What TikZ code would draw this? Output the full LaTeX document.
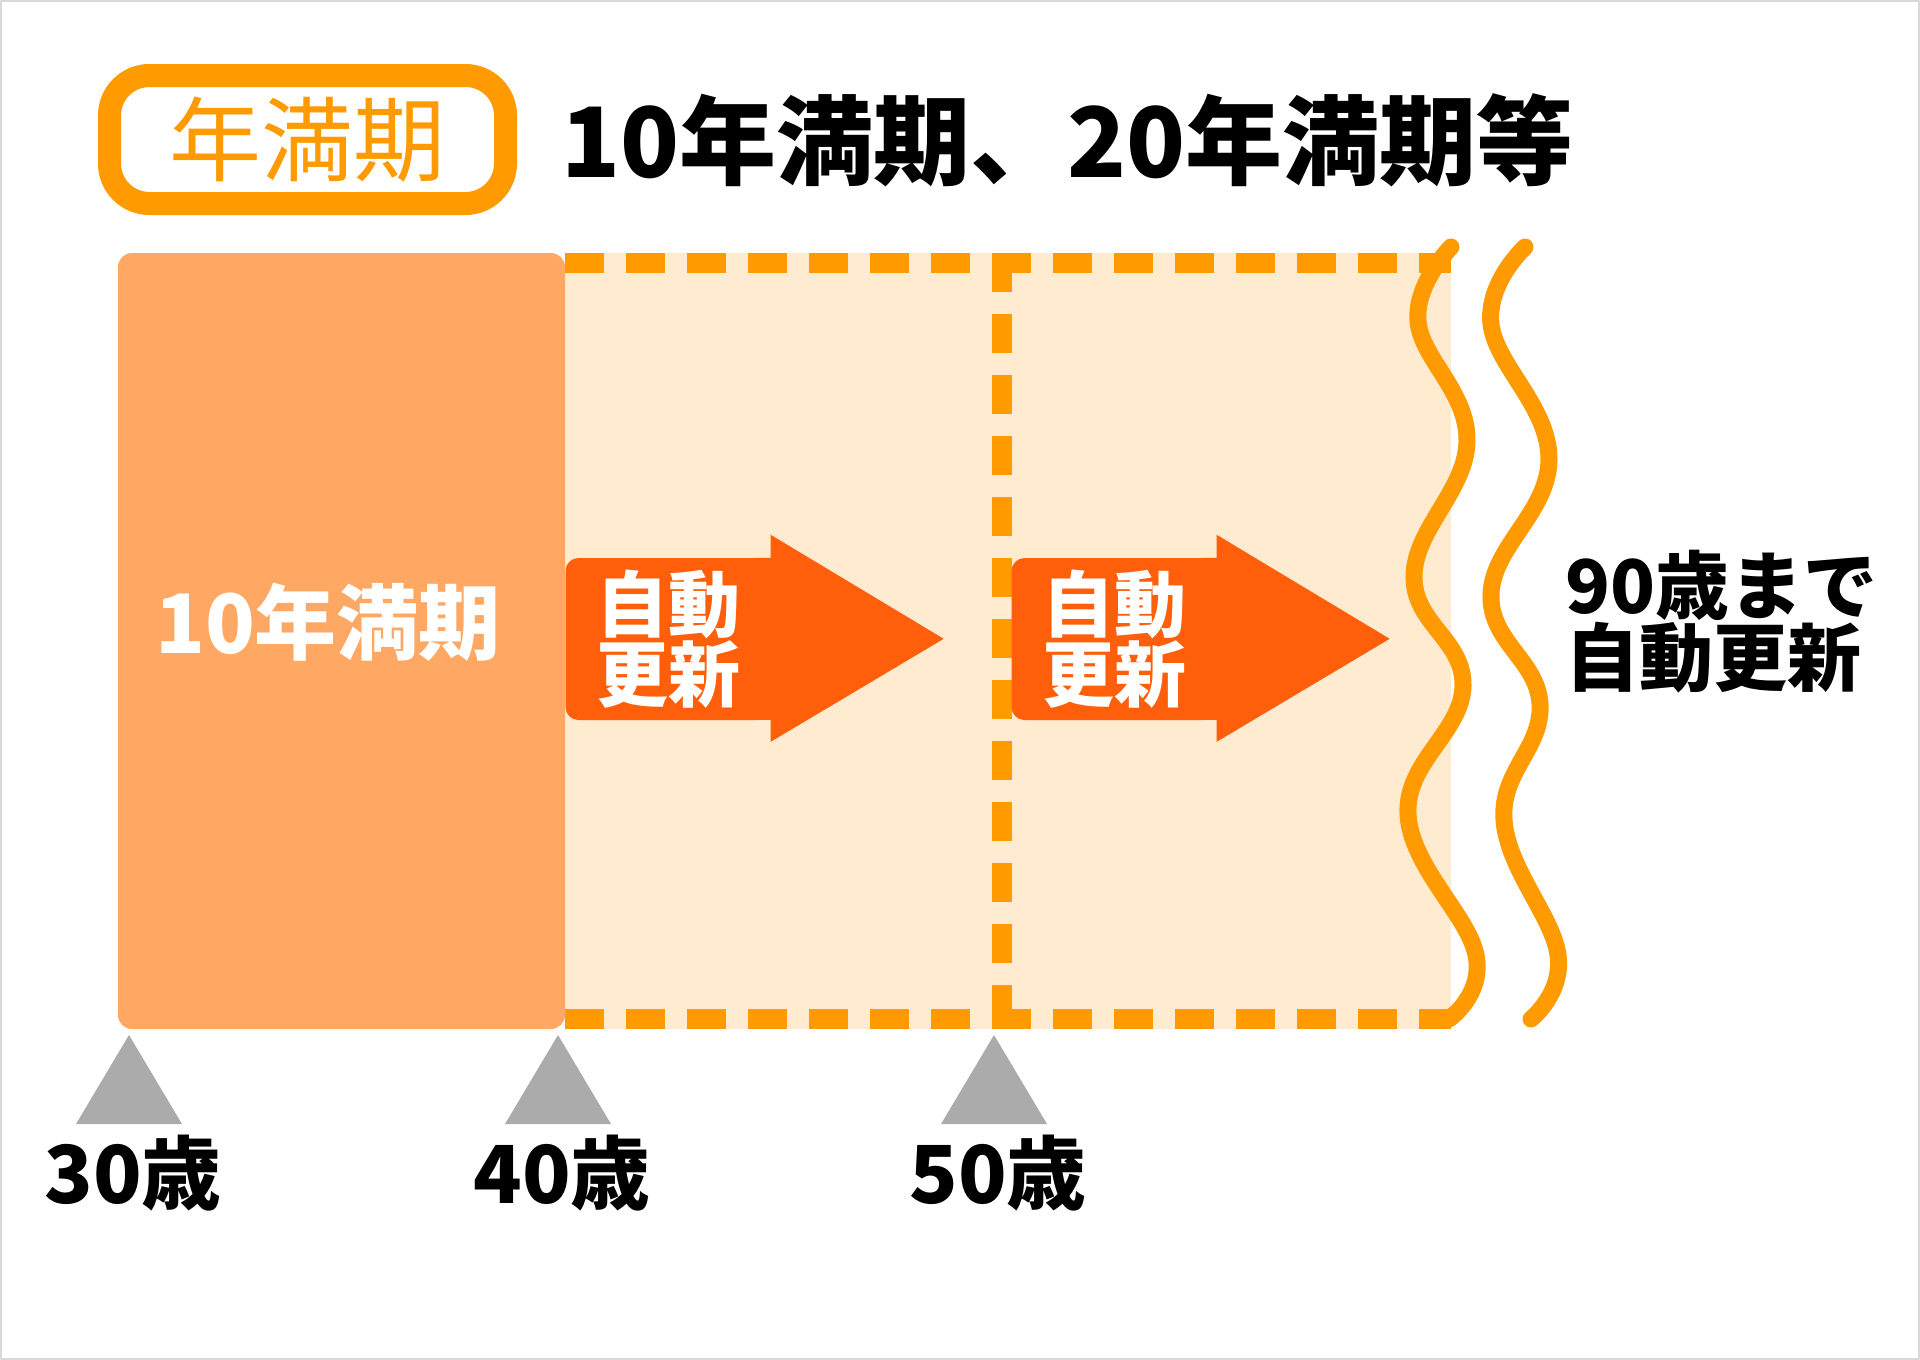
\documentclass[tikz,border=0pt]{standalone}
\usepackage{fontspec}
\newfontfamily\jp{Noto Sans CJK JP}
\usetikzlibrary{positioning}
\definecolor{tagorange}{HTML}{FF9A00}
\definecolor{termorange}{HTML}{FFA864}
\definecolor{renewbeige}{HTML}{FFEBD0}
\definecolor{renewred}{HTML}{FF5F0A}
\definecolor{tickgray}{HTML}{ABABAB}

\begin{document}
\begin{tikzpicture}[x=1pt,y=-1pt,
  tagbox/.style={draw=tagorange,line width=23pt,rounded corners=40pt,fill=white,
    minimum width=396pt,minimum height=128pt,text=tagorange,
    font=\jp\fontsize{92}{96}\selectfont},
  bigtitle/.style={anchor=west,font=\jp\bfseries\fontsize{97}{100}\selectfont},
  renewbody/.style={fill=renewred,rounded corners=13pt,minimum width=205pt,
    minimum height=162pt,text=white,align=center,inner sep=0pt,
    font=\jp\bfseries\fontsize{72}{70}\selectfont},
  dashline/.style={draw=tagorange,line width=20pt,dash pattern=on 39pt off 22pt},
  wave/.style={draw=tagorange,line width=17pt,line cap=round},
  agelabel/.style={font=\jp\bfseries\fontsize{80}{84}\selectfont}]
  \useasboundingbox (0,0) rectangle (1920,1360);
  \draw[line width=2pt,black!15] (1,1) rectangle (1919,1359);
  % header
  \node[tagbox] (tag) at (307.5,139.5) {年満期};
  \node[bigtitle] (title) at (558,140) {10年満期、20年満期等};
  % renewal zone
  \fill[renewbeige] (565,253) rectangle (1451,1029);
  \draw[dashline] (565,263) -- (1451,263);
  \draw[dashline] (565,1019) -- (1451,1019);
  \draw[dashline] (1002,253) -- (1002,1029);
  % first term
  \fill[termorange,rounded corners=14pt] (118,253) rectangle (565,1029);
  \node[text=white,font=\jp\bfseries\fontsize{82}{86}\selectfont] (term) at (328,622) {10年満期};
  % renewal arrows
  \foreach \cx/\nm in {668/renewA, 1114/renewB}{
    \node[renewbody] (\nm) at (\cx,639) {自動\\更新};
    \fill[renewred] (\nm.north east) ++(-14,0) -- ++(14,0) -- ++(0,-23) -- ++(173,104)
      -- ++(-173,103) -- ++(0,-22) -- ++(-14,0) -- cycle;
  }
  % cut marks
  \draw[wave] plot[smooth,tension=0.7] coordinates {(1451,247) (1418,321) (1467,441)
    (1414,576) (1463,686) (1408,814) (1476,955) (1449,1019)};
  \draw[wave] plot[smooth,tension=0.7] coordinates {(1525,247) (1491,324) (1549,459)
    (1491,594) (1540,704) (1504,820) (1558,955) (1531,1019)};
  \node[anchor=west,align=left,font=\jp\bfseries\fontsize{74}{72}\selectfont] (until)
    at (1562,622) {90歳まで\\自動更新};
  % age ticks
  \foreach \x/\age in {129/30, 558/40, 994/50}{
    \fill[tickgray] (\x,1035) -- ++(53,89) -- ++(-106,0) -- cycle;
    \node[agelabel] (age\age) at (\x+4,1173) {{\age}歳};
  }
\end{tikzpicture}
\end{document}
